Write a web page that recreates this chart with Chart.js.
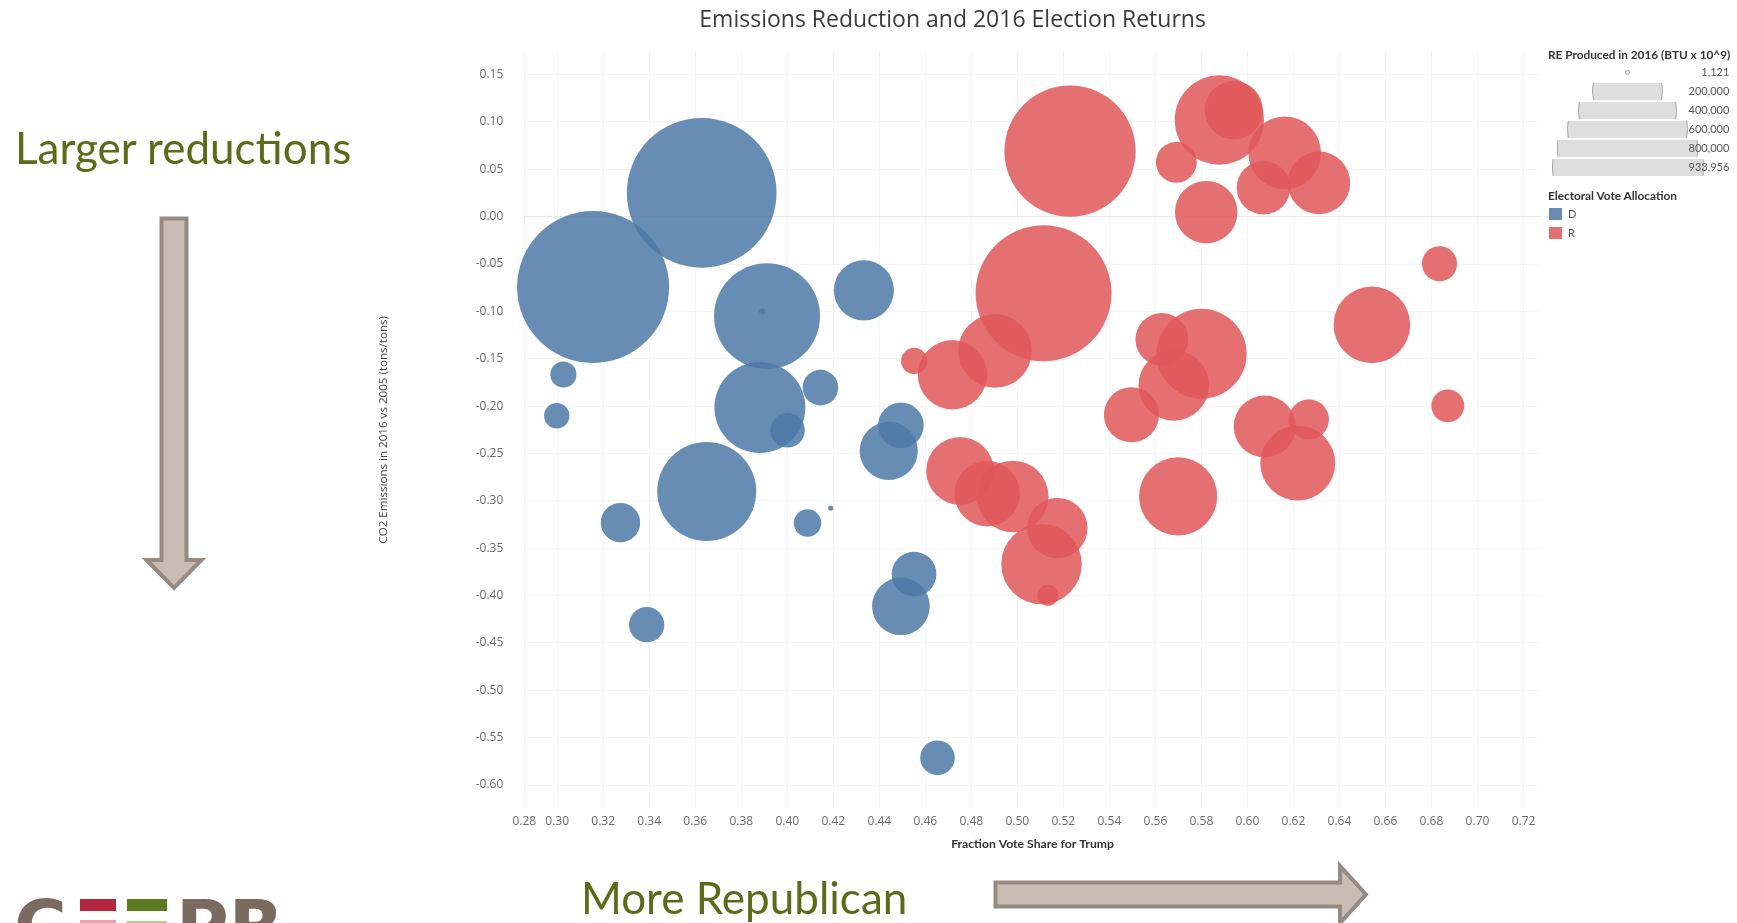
<!DOCTYPE html>
<html>
<head>
<meta charset="utf-8">
<script src="https://cdn.jsdelivr.net/npm/chart.js@4.4.1/dist/chart.umd.min.js"></script>
<style>
  html, body { margin: 0; padding: 0; background: #ffffff; }
  #page { position: relative; width: 1737px; height: 923px; overflow: hidden; background: #ffffff; }
  #chart { position: absolute; left: 0; top: 0; }
  .abs { position: absolute; white-space: nowrap; }
  .note { font-family: 'Lato', sans-serif; font-size: 44px; line-height: 1; color: #5b6b1a; }
  .lg { font-family: 'Lato', sans-serif; font-size: 11px; color: #555; line-height: 16px; height: 16px; }
  .lgt { font-family: 'Lato', sans-serif; font-size: 11.8px; font-weight: bold; color: #333; line-height: 16px; height: 16px; }
  .logo { font-family: 'DejaVu Sans', sans-serif; font-weight: bold; font-size: 72px; line-height: 1; color: #7a6a60; }
</style>
</head>
<body>
<div id="page">
  <canvas id="chart" width="1737" height="923"></canvas>

  <!-- annotations -->
  <div class="abs note" style="left:15px; top:125px;">Larger reductions</div>
  <svg class="abs" style="left:0; top:0;" width="1737" height="923">
    <polygon points="161.5,218.5 186.5,218.5 186.5,560 201.5,560 174,588 146.5,560 161.5,560"
             fill="#c7bdb3" stroke="#968b82" stroke-width="4" stroke-linejoin="miter"/>
    <polygon points="995.5,882.5 1340,882.5 1340,866 1366,894.5 1340,923 1340,906.5 995.5,906.5"
             fill="#c7bdb3" stroke="#968b82" stroke-width="4" stroke-linejoin="miter"/>
  </svg>
  <div class="abs note" style="left:581px; top:875px;">More Republican</div>

  <!-- logo (cropped at the bottom edge) -->
  <div class="abs logo" style="left:14px; top:890px;">C</div>
  <div class="abs" style="left:80px; top:899px; width:36px; height:12px; background:#b3263d;"></div>
  <div class="abs" style="left:80px; top:920px; width:36px; height:3px; background:#e8a3b0;"></div>
  <div class="abs" style="left:127px; top:899px; width:40px; height:12px; background:#5b7a1e;"></div>
  <div class="abs" style="left:127px; top:921px; width:40px; height:2px; background:#b9c68f;"></div>
  <div class="abs logo" style="left:176px; top:890px;">PR</div>

  <div id="legend"></div>
</div>

<script>
// ---------------- data ----------------
// Democratic-allocated states (electoral vote allocation = D)
const dVoteShare = [0.3156, 0.3628, 0.3912, 0.3891, 0.4333, 0.3881, 0.4001, 0.4144, 0.3027, 0.2998,
                    0.3650, 0.3275, 0.4088, 0.4189, 0.4494, 0.4441, 0.4551, 0.4494, 0.3389, 0.4653];
const dEmissions = [-0.0743, 0.0252, -0.1050, -0.1000, -0.0778, -0.2015, -0.2255, -0.1805, -0.1666, -0.2102,
                    -0.2902, -0.3230, -0.3235, -0.3076, -0.2203, -0.2473, -0.3774, -0.4113, -0.4307, -0.5713];
const dREProduced = [933956, 906000, 453800, 1500, 146200, 334600, 48500, 51100, 27650, 26000,
                     396400, 62570, 30560, 1121, 84060, 136560, 80790, 134460, 50420, 48500];

// Republican-allocated states (electoral vote allocation = R)
const rVoteShare = [0.5229, 0.5114, 0.5878, 0.5941, 0.5691, 0.6162, 0.6070, 0.6311, 0.5821, 0.6835,
                    0.6541, 0.6871, 0.5801, 0.5628, 0.5680, 0.5496, 0.6075, 0.6267, 0.6219, 0.5699,
                    0.4552, 0.4718, 0.4903, 0.4751, 0.4869, 0.4980, 0.5174, 0.5105, 0.5133];
const rEmissions = [0.0691, -0.0809, 0.1020, 0.1125, 0.0574, 0.0673, 0.0305, 0.0357, 0.0047, -0.0497,
                    -0.1143, -0.1997, -0.1447, -0.1296, -0.1781, -0.2091, -0.2215, -0.2141, -0.2602, -0.2953,
                    -0.1524, -0.1669, -0.1418, -0.2684, -0.2924, -0.2953, -0.3288, -0.3668, -0.3996];
const rREProduced = [696000, 746600, 323150, 136560, 67630, 213300, 116340, 158360, 158000, 49780,
                     237630, 43650, 328000, 112500, 201700, 123200, 155000, 65440, 226700, 247400,
                     28120, 194100, 220000, 185400, 173400, 206800, 147250, 261800, 18230];

// axes / legend
const xTicks = [0.28, 0.30, 0.32, 0.34, 0.36, 0.38, 0.40, 0.42, 0.44, 0.46, 0.48, 0.50,
                0.52, 0.54, 0.56, 0.58, 0.60, 0.62, 0.64, 0.66, 0.68, 0.70, 0.72];
const yTicks = [-0.60, -0.55, -0.50, -0.45, -0.40, -0.35, -0.30, -0.25, -0.20, -0.15,
                -0.10, -0.05, 0.00, 0.05, 0.10, 0.15];
const sizeLegendValues = [1121, 200000, 400000, 600000, 800000, 933956];
const partyLabels = ['D', 'R'];

const chartTitle = 'Emissions Reduction and 2016 Election Returns';
const xTitle = 'Fraction Vote Share for Trump';
const yTitle = 'CO2 Emissions in 2016 vs 2005 (tons/tons)';
const sizeTitle = 'RE Produced in 2016 (BTU x 10^9)';
const colorTitle = 'Electoral Vote Allocation';

// ---------------- styling ----------------
const X_MIN = 0.2857, X_MAX = 0.7275;
const Y_MIN = -0.625, Y_MAX = 0.175;
const MAX_RADIUS = 76;
const MAX_RE = Math.max(...sizeLegendValues);
const BLUE = 'rgba(78,121,167,0.85)';
const RED = 'rgba(225,87,89,0.85)';

function radiusFor(v) { return MAX_RADIUS * Math.sqrt(v / MAX_RE); }
function buildPoints(xs, ys, sizes) {
  return xs.map((x, i) => ({ x: x, y: ys[i], r: radiusFor(sizes[i]) }));
}

const tickFont = { family: 'Open Sans', size: 12 };

new Chart(document.getElementById('chart').getContext('2d'), {
  type: 'bubble',
  data: {
    datasets: [
      { label: partyLabels[0], data: buildPoints(dVoteShare, dEmissions, dREProduced),
        backgroundColor: BLUE, borderWidth: 0, clip: false },
      { label: partyLabels[1], data: buildPoints(rVoteShare, rEmissions, rREProduced),
        backgroundColor: RED, borderWidth: 0, clip: false }
    ]
  },
  options: {
    responsive: false,
    animation: false,
    events: [],
    layout: { autoPadding: false, padding: { left: 364.45, right: 196.25, top: 0, bottom: 0 } },
    plugins: {
      legend: { display: false },
      tooltip: { enabled: false },
      title: {
        display: true, text: chartTitle, color: '#3c3c3c',
        font: { family: 'Open Sans', size: 23, weight: 'normal' },
        padding: { top: 6.2, bottom: 17.1 }
      }
    },
    scales: {
      x: {
        type: 'linear', min: X_MIN, max: X_MAX,
        afterBuildTicks: (s) => { s.ticks = xTicks.map(v => ({ value: Math.max(v, X_MIN) })); },
        afterFit: (s) => { s.height = 923 - 808.7; },
        ticks: {
          callback: (v, i) => xTicks[i].toFixed(2),
          font: tickFont, color: '#6a6a6a', padding: 6, maxRotation: 0, minRotation: 0, autoSkip: false
        },
        grid: { color: '#f5f5f5', drawTicks: false },
        border: { display: false },
        title: {
          display: true, text: xTitle, color: '#333',
          font: { family: 'Lato', size: 12.2, weight: 'bold' },
          padding: { top: 0, bottom: 72 }
        }
      },
      y: {
        type: 'linear', min: Y_MIN, max: Y_MAX,
        afterBuildTicks: (s) => { s.ticks = yTicks.map(v => ({ value: v })); },
        afterFit: (s) => { s.width = 159.85; },
        ticks: {
          callback: (v, i) => yTicks[i].toFixed(2),
          font: tickFont, color: '#6a6a6a', padding: 21, autoSkip: false
        },
        grid: {
          color: (c) => (c.tick && c.tick.value === 0) ? '#e9e9e9' : '#f5f5f5',
          drawTicks: false
        },
        border: { display: false },
        title: {
          display: true, text: yTitle, color: '#444',
          font: { family: 'Open Sans', size: 11.6 },
          padding: { top: 12.6, bottom: 0 }
        }
      }
    }
  }
});

// ---------------- legend (HTML) ----------------
(function buildLegend() {
  const lg = document.getElementById('legend');
  const add = (html) => { lg.insertAdjacentHTML('beforeend', html); };
  add(`<div class="abs lgt" style="left:1548px; top:47px;">${sizeTitle}</div>`);
  const centerX = 1627.5;
  sizeLegendValues.forEach((v, i) => {
    const cy = 72.3 + i * 19;
    const d = 2 * radiusFor(v);
    const rowTop = cy - 8.5;
    add(`<div class="abs" style="left:1540px; top:${rowTop}px; width:197px; height:17px; overflow:hidden;">
           <div class="abs" style="left:${centerX - 1540 - d / 2}px; top:${8.5 - d / 2}px; width:${d}px; height:${d}px;
                border-radius:50%; box-sizing:border-box; background:${i === 0 ? '#f2f2f2' : '#dedede'};
                border:1px solid #a8a8a8;"></div>
         </div>`);
    add(`<div class="abs lg" style="right:7.7px; top:${cy - 8}px; text-align:right;">${v.toLocaleString('en-US')}</div>`);
  });
  add(`<div class="abs lgt" style="left:1548px; top:188px;">${colorTitle}</div>`);
  [BLUE, RED].forEach((c, i) => {
    const cy = 214 + i * 19;
    add(`<div class="abs" style="left:1549px; top:${cy - 6}px; width:13px; height:12px; background:${c};"></div>`);
    add(`<div class="abs lg" style="left:1568px; top:${cy - 8}px;">${partyLabels[i]}</div>`);
  });
})();
</script>
</body>
</html>
